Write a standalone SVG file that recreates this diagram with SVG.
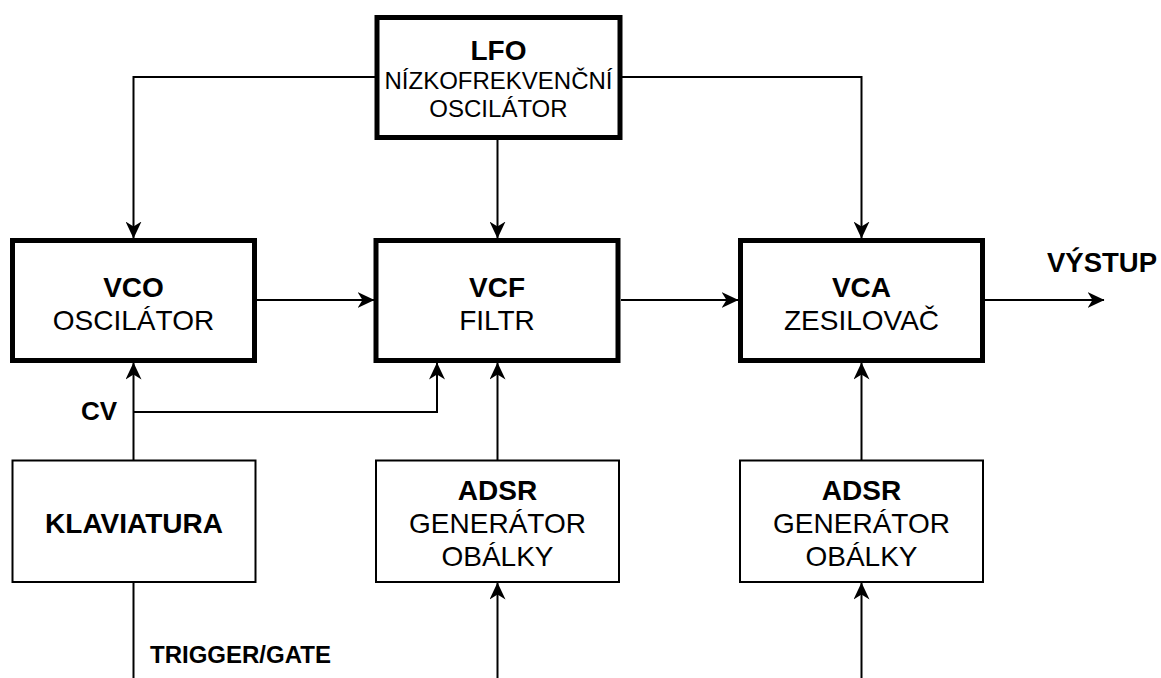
<svg xmlns="http://www.w3.org/2000/svg" width="1161" height="678" viewBox="0 0 1161 678">
<defs>
<style>
text{font-family:"Liberation Sans",Arial,Helvetica,sans-serif;fill:#000;text-anchor:middle}
.b{font-weight:bold}
.f28{font-size:28px}
.f24{font-size:24px}
.thick{fill:#fff;stroke:#000;stroke-width:5}
.thin{fill:#fff;stroke:#000;stroke-width:2}
.c{fill:none;stroke:#000;stroke-width:2}
.a{marker-end:url(#arr)}
</style>
<marker id="arr" markerUnits="userSpaceOnUse" viewBox="0 0 17 16" refX="16.5" refY="8" markerWidth="17" markerHeight="16" orient="auto">
<path d="M0,0 L17,8 L0,16 L5,8 Z" fill="#000"/>
</marker>
</defs>
<rect width="1161" height="678" fill="#fff"/>
<g id="connectors">
<path class="c a" d="M377,77 H133.5 V238"/>
<path class="c a" d="M620,77 H861.5 V238"/>
<path class="c a" d="M497.5,140 V238"/>
<path class="c a" d="M257,300 H374"/>
<path class="c a" d="M621,300 H738"/>
<path class="c a" d="M985,300 H1104"/>
<path class="c a" d="M133.5,460 V363"/>
<path class="c a" d="M133.5,412 H437 V363"/>
<path class="c a" d="M497.5,460 V363"/>
<path class="c a" d="M861.5,460 V363"/>
<path class="c" d="M133.5,582 V678"/>
<path class="c a" d="M497.5,678 V583"/>
<path class="c a" d="M861.5,678 V583"/>
</g>
<g id="lfo">
<rect class="thick" x="377" y="17.5" width="243" height="120"/>
<text class="b f28" x="498.5" y="60">LFO</text>
<text class="f24" x="498.5" y="88.5">NÍZKOFREKVENČNÍ</text>
<text class="f24" x="498.5" y="117">OSCILÁTOR</text>
</g>
<g id="vco">
<rect class="thick" x="12.5" y="240.5" width="242" height="120"/>
<text class="b f28" x="133.5" y="297">VCO</text>
<text class="f28" x="133.5" y="330">OSCILÁTOR</text>
</g>
<g id="vcf">
<rect class="thick" x="376" y="240.5" width="242" height="120"/>
<text class="b f28" x="497" y="297">VCF</text>
<text class="f28" x="497" y="330">FILTR</text>
</g>
<g id="vca">
<rect class="thick" x="740.5" y="240.5" width="242" height="120"/>
<text class="b f28" x="861.5" y="297">VCA</text>
<text class="f28" x="861.5" y="330">ZESILOVAČ</text>
</g>
<g id="vystup">
<text class="b" x="1047" y="272" style="text-anchor:start;font-size:27.5px">VÝSTUP</text>
</g>
<g id="cv">
<text class="b" x="117" y="420" style="text-anchor:end;font-size:26px">CV</text>
</g>
<g id="klaviatura">
<rect class="thin" x="12.5" y="460.5" width="243" height="121.5"/>
<text class="b f28" x="134" y="533">KLAVIATURA</text>
</g>
<g id="adsr1">
<rect class="thin" x="376" y="460.5" width="243" height="121.5"/>
<text class="b f28" x="497.5" y="500">ADSR</text>
<text class="f28" x="497.5" y="533">GENERÁTOR</text>
<text class="f28" x="497.5" y="566">OBÁLKY</text>
</g>
<g id="adsr2">
<rect class="thin" x="740" y="460.5" width="243" height="121.5"/>
<text class="b f28" x="861.5" y="500">ADSR</text>
<text class="f28" x="861.5" y="533">GENERÁTOR</text>
<text class="f28" x="861.5" y="566">OBÁLKY</text>
</g>
<g id="trigger">
<text class="b" x="150" y="663" style="text-anchor:start;font-size:24px">TRIGGER/GATE</text>
</g>
</svg>
